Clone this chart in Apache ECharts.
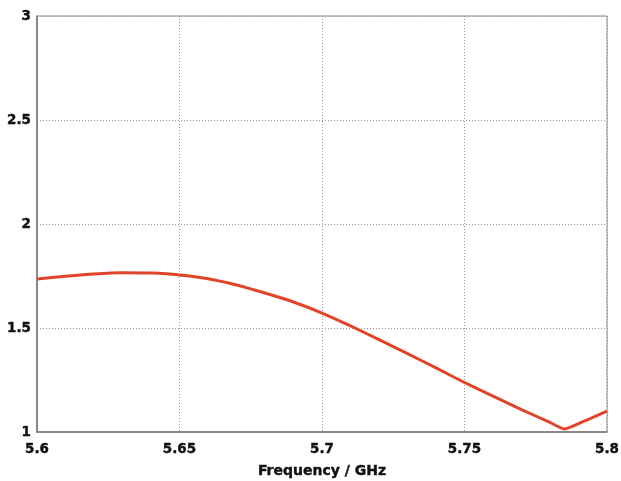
<!DOCTYPE html>
<html><head><meta charset="utf-8">
<script src="https://cdn.jsdelivr.net/npm/echarts@6/dist/echarts.min.js"></script>
<style>html,body{margin:0;padding:0;background:#fff}#c{width:621px;height:481px}</style>
</head><body><div id="c"></div>
<script>
const freq = [5.600,5.610,5.620,5.630,5.640,5.650,5.660,5.670,5.680,5.690,5.700,5.710,5.720,5.730,5.740,5.750,5.760,5.770,5.780,5.785,5.790,5.800];
const vswr = [1.736,1.749,1.760,1.766,1.764,1.755,1.737,1.707,1.668,1.625,1.572,1.510,1.444,1.377,1.308,1.238,1.172,1.108,1.046,1.015,1.040,1.100];
const xTicks = [5.6,5.65,5.7,5.75,5.8];
const yTicks = [1,1.5,2,2.5,3];
const xName = 'Frequency / GHz';

const chart = echarts.init(document.getElementById('c'));
const font = 'DejaVu Sans';
const heavy = {textBorderColor:'#111',textBorderWidth:0.4};
chart.setOption({
  animation:false,
  grid:{left:37,right:14,top:16,bottom:49,show:true,borderColor:'#8a8a8a',borderWidth:1,
    containLabel:false,outerBoundsMode:'none'},
  xAxis:{type:'value',min:5.6,max:5.8,interval:0.05,
    name:xName,nameLocation:'middle',nameGap:32,
    nameTextStyle:Object.assign({fontFamily:font,fontWeight:'bold',fontSize:14,color:'#111'},heavy),
    axisLine:{lineStyle:{color:'#777',width:1.5}},axisTick:{show:false},
    axisLabel:Object.assign({fontFamily:font,fontWeight:'bold',fontSize:13.5,color:'#111',margin:10,
      formatter:v=>{const t=xTicks.find(k=>Math.abs(k-v)<1e-6);return t===undefined?'':String(t);}},heavy),
    splitLine:{lineStyle:{color:'#999',type:[1,2],width:1}}},
  yAxis:{type:'value',min:1,max:3,interval:0.5,
    axisLine:{show:true,lineStyle:{color:'#777',width:1.5}},axisTick:{show:false},
    axisLabel:Object.assign({fontFamily:font,fontWeight:'bold',fontSize:13.5,color:'#111',margin:6,
      formatter:v=>{const t=yTicks.find(k=>Math.abs(k-v)<1e-6);return t===undefined?'':String(t);}},heavy),
    splitLine:{lineStyle:{color:'#999',type:[1,2],width:1}}},
  series:[{type:'line',data:freq.map((f,i)=>[f,vswr[i]]),smooth:0.2,showSymbol:false,
    lineStyle:{color:'#e0442a',width:3}}]
});
</script></body></html>
